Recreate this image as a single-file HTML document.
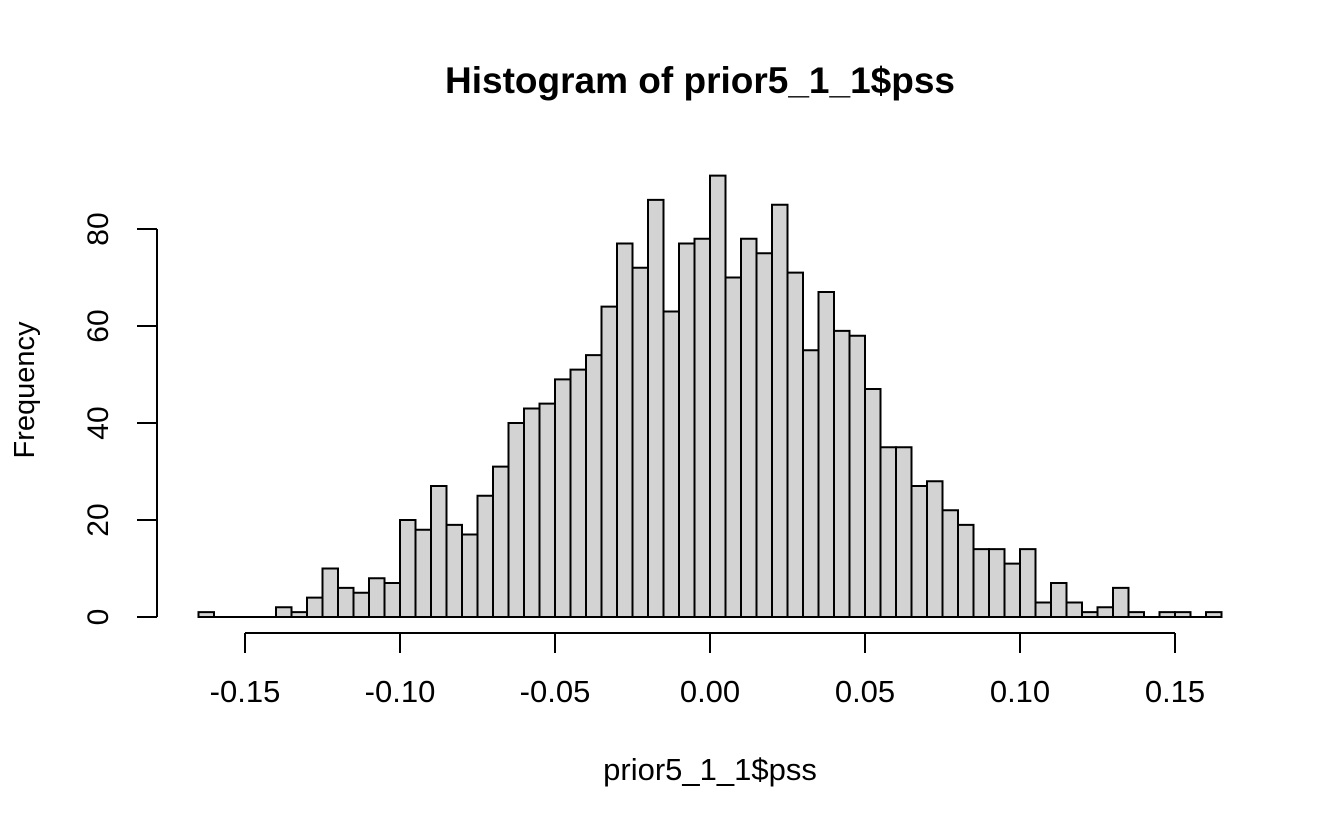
<!DOCTYPE html>
<html><head><meta charset="utf-8"><style>
body{margin:0;background:#fff;}
svg text{font-family:"Liberation Sans",Arial,sans-serif;fill:#000;}
</style></head><body>
<svg id="chart" width="1344" height="830">
<text x="700" y="93" text-anchor="middle" font-size="37" font-weight="bold">Histogram of prior5_1_1$pss</text>
<text x="710" y="780" text-anchor="middle" font-size="31">prior5_1_1$pss</text>
<text transform="translate(34,390) rotate(-90)" text-anchor="middle" font-size="29">Frequency</text>
<g id="bars"></g>
<g id="xaxis"></g>
<g id="yaxis"></g>
</svg>
<script>
const binStart = -0.165;
const binWidth = 0.005;
const counts = [1,0,0,0,0,2,1,4,10,6,5,8,7,20,18,27,19,17,25,31,40,43,44,49,51,54,64,77,72,86,63,77,78,91,70,78,75,85,71,55,67,59,58,47,35,35,27,28,22,19,14,14,11,14,3,7,3,1,2,6,1,0,1,1,0,1];
const xTicks = [-0.15,-0.10,-0.05,0.00,0.05,0.10,0.15];
const xTickLabels = ["-0.15","-0.10","-0.05","0.00","0.05","0.10","0.15"];
const yTicks = [0,20,40,60,80];

const NS="http://www.w3.org/2000/svg";
function xs(v){return 710 + v*3100;}
function ys(v){return 617 - v*4.85;}
function mk(tag,attrs,parent){const e=document.createElementNS(NS,tag);for(const k in attrs)e.setAttribute(k,attrs[k]);parent.appendChild(e);return e;}

const bars=document.getElementById('bars');
counts.forEach((c,i)=>{
  const x0=xs(binStart+i*binWidth), x1=xs(binStart+(i+1)*binWidth);
  const y0=ys(0), y1=ys(c);
  const p=mk('path',{d:`M${x0},${y0}V${y1}H${x1}V${y0}Z`,fill:'#d3d3d3',stroke:'#000','stroke-width':2},bars);
  
  
});

const xa=document.getElementById('xaxis');
mk('line',{x1:xs(xTicks[0]),x2:xs(xTicks[xTicks.length-1]),y1:633,y2:633,stroke:'#000','stroke-width':2},xa);
xTicks.forEach((t,i)=>{
  mk('line',{x1:xs(t),x2:xs(t),y1:633,y2:653,stroke:'#000','stroke-width':2},xa);
  const tx=mk('text',{x:xs(t),y:702,'text-anchor':'middle','font-size':31},xa);
  tx.textContent=xTickLabels[i];
  
  
});

const ya=document.getElementById('yaxis');
mk('line',{x1:157,x2:157,y1:ys(yTicks[0]),y2:ys(yTicks[yTicks.length-1]),stroke:'#000','stroke-width':2},ya);
yTicks.forEach(t=>{
  mk('line',{x1:137,x2:157,y1:ys(t),y2:ys(t),stroke:'#000','stroke-width':2},ya);
  const tx=mk('text',{transform:`translate(108,${ys(t)}) rotate(-90)`,'text-anchor':'middle','font-size':30},ya);
  tx.textContent=String(t);
  
  
});
</script>
</body></html>
